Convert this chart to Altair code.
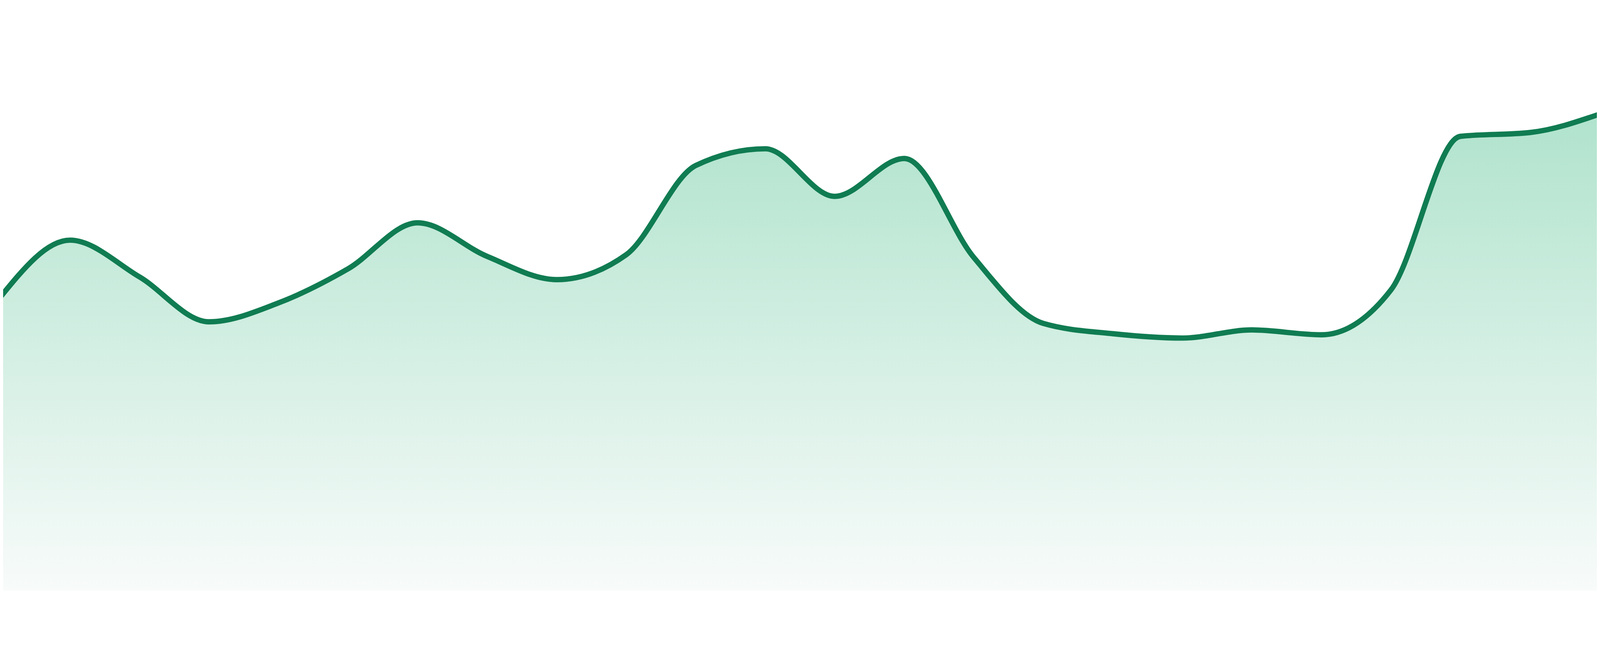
import altair as alt
import pandas as pd

# Data (point index, value on a 0-100 scale)
idx = list(range(24))
values = [54.3, 64.8, 58.0, 49.7, 53.2, 59.5, 68.0, 61.8, 57.5, 62.1,
          78.6, 81.7, 72.9, 79.9, 61.6, 49.4, 47.5, 46.7, 48.2, 47.3,
          55.6, 84.0, 84.7, 88.1]

df = pd.DataFrame({"i": idx, "v": values})

x_enc = alt.X("i:Q", axis=None,
              scale=alt.Scale(domain=[0.03833, 22.9617], nice=False, zero=False))
y_enc = alt.Y("v:Q", axis=None, scale=alt.Scale(domain=[0, 100], nice=False))

area = alt.Chart(df).mark_area(
    interpolate="monotone",
    clip=True,
    color=alt.Gradient(
        gradient="linear",
        x1=0, x2=0, y1=0, y2=1,
        stops=[
            alt.GradientStop(color="#b0e3cd", offset=0),
            alt.GradientStop(color="#f8fbfa", offset=1),
        ],
    ),
).encode(x=x_enc, y=y_enc)

line = alt.Chart(df).mark_line(
    interpolate="monotone",
    clip=True,
    color="#107c52",
    strokeWidth=16,
).encode(x=x_enc, y=y_enc)

chart = alt.layer(area, line).properties(
    width=4784, height=1624, padding=0
).configure_view(stroke=None)

chart.save("out.html", embed_options={"renderer": "svg", "actions": False})
